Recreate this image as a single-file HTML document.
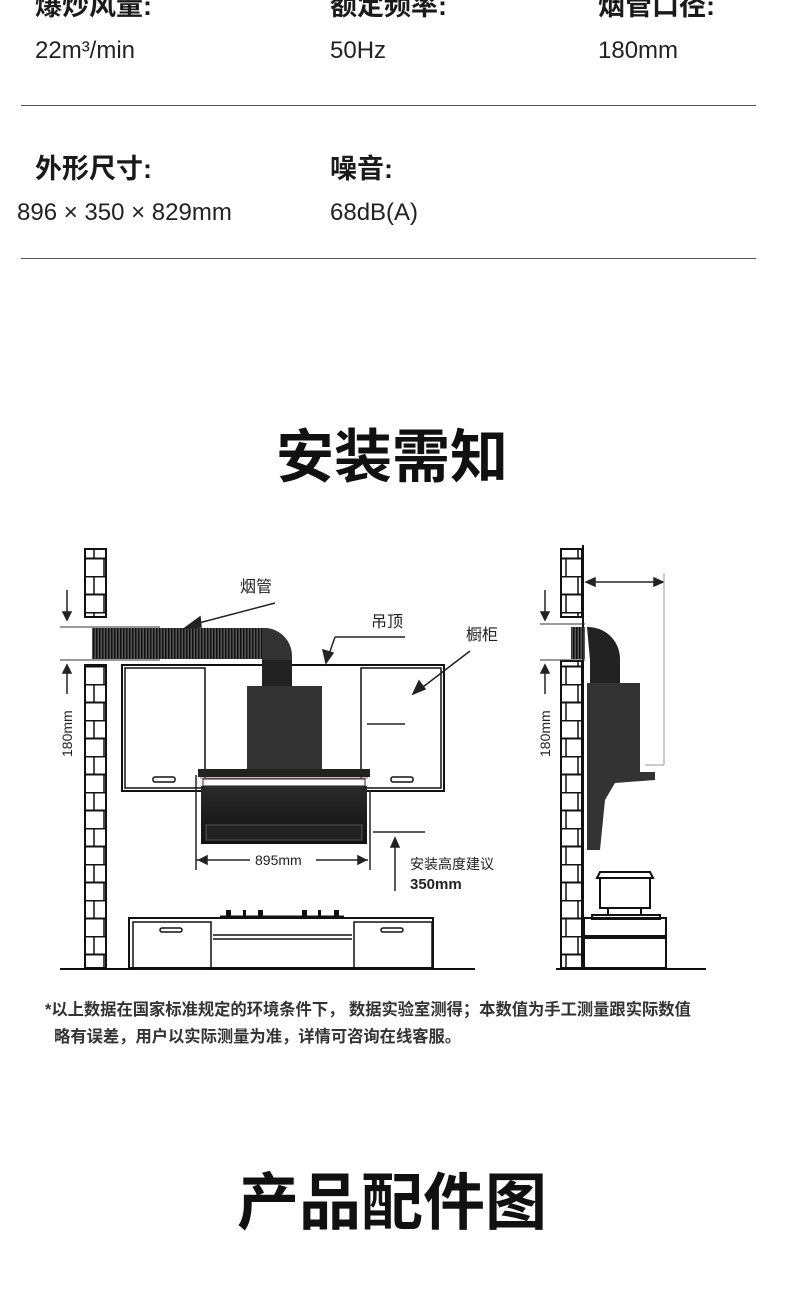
<!DOCTYPE html>
<html><head><meta charset="utf-8"><style>
body{margin:0;width:790px;height:1293px;background:#fff;overflow:hidden;position:relative;font-family:"Liberation Sans","Noto Sans CJK SC",sans-serif;color:#222}
.t{position:absolute;white-space:nowrap}
.h{font-weight:bold;font-size:27px;color:#1a1a1a}
.v{font-size:24px;color:#222}
.hr{position:absolute;left:21px;width:735px;height:1px;background:#555}
</style></head><body>
<div class="t h" style="left:35px;top:-16px">爆炒风量:</div>
<div class="t h" style="left:330px;top:-16px">额定频率:</div>
<div class="t h" style="left:598px;top:-16px">烟管口径:</div>
<div class="t v" style="left:35px;top:37px">22m³/min</div>
<div class="t v" style="left:330px;top:37px">50Hz</div>
<div class="t v" style="left:598px;top:37px">180mm</div>
<div class="hr" style="top:105px"></div>
<div class="t h" style="left:35px;top:147px">外形尺寸:</div>
<div class="t h" style="left:330px;top:147px">噪音:</div>
<div class="t v" style="left:17px;top:199px">896 × 350 × 829mm</div>
<div class="t v" style="left:330px;top:199px">68dB(A)</div>
<div class="hr" style="top:258px"></div>
<div class="t" style="left:0;width:784px;text-align:center;top:410px;font-size:58px;font-weight:bold;color:#111">安装需知</div>
<svg style="position:absolute;left:0;top:0" width="790" height="1293">
<defs>
<pattern id="br" width="22" height="36" patternUnits="userSpaceOnUse">
<rect width="22" height="36" fill="#fff"/>
<line x1="0" y1="0.5" x2="22" y2="0.5" stroke="#111" stroke-width="2"/>
<line x1="0" y1="18.5" x2="22" y2="18.5" stroke="#111" stroke-width="2"/>
<line x1="6" y1="0" x2="6" y2="18" stroke="#111" stroke-width="1.5"/>
<line x1="16" y1="18" x2="16" y2="36" stroke="#111" stroke-width="1.5"/>
</pattern>
<pattern id="duct" width="3" height="10" patternUnits="userSpaceOnUse">
<rect width="3" height="10" fill="#555"/><rect width="1.5" height="10" fill="#111"/>
</pattern>
<linearGradient id="hood" x1="0" y1="0" x2="0" y2="1"><stop offset="0" stop-color="#2a2a2a"/><stop offset="1" stop-color="#111"/></linearGradient>
</defs>
<g stroke="#111" stroke-width="2" fill="none">
<rect x="85" y="549" width="21" height="68" fill="url(#br)"/>
<rect x="85" y="665" width="21" height="303" fill="url(#br)"/>
<rect x="85" y="549" width="21" height="68"/><rect x="85" y="665" width="21" height="303"/>
<line x1="60" y1="969" x2="475" y2="969"/>
<line x1="556" y1="969" x2="706" y2="969"/>
<rect x="122" y="665" width="322" height="126"/>
<rect x="125" y="668" width="80" height="120" stroke-width="1.5"/>
<rect x="361" y="668" width="80" height="120" stroke-width="1.5"/>
<rect x="153" y="777" width="22" height="5" rx="2" stroke-width="1.5"/>
<rect x="391" y="777" width="22" height="5" rx="2" stroke-width="1.5"/>
<rect x="129" y="918" width="304" height="50"/>
<rect x="133" y="922" width="78" height="46" stroke-width="1.5"/>
<rect x="354" y="922" width="78" height="46" stroke-width="1.5"/>
<line x1="213" y1="935" x2="352" y2="935" stroke-width="1.5"/>
<line x1="213" y1="939" x2="352" y2="939" stroke-width="1.5"/>
<rect x="160" y="928" width="22" height="4" rx="2" stroke-width="1.5"/>
<rect x="381" y="928" width="22" height="4" rx="2" stroke-width="1.5"/>
<line x1="220" y1="917" x2="344" y2="917" stroke-width="3"/>
</g>
<g fill="#111"><rect x="226" y="910" width="5" height="7"/><rect x="243" y="910" width="3" height="7"/><rect x="258" y="910" width="5" height="7"/><rect x="302" y="910" width="5" height="7"/><rect x="318" y="910" width="3" height="7"/><rect x="334" y="910" width="5" height="7"/></g>
<rect x="92" y="628" width="175" height="31" fill="url(#duct)"/>
<path d="M262 628 A28 28 0 0 1 292 656 L292 686 L262 686 L262 659 Z" fill="#333"/>
<rect x="262" y="660" width="30" height="26" fill="#222"/>
<line x1="60" y1="627" x2="160" y2="627" stroke="#333"/>
<line x1="60" y1="660" x2="160" y2="660" stroke="#333"/>
<rect x="247" y="686" width="75" height="85" fill="#333"/>
<rect x="198" y="769" width="172" height="8" fill="#222"/>
<line x1="200" y1="778" x2="368" y2="778" stroke="#a66" stroke-width="1"/>
<rect x="203" y="779" width="162" height="7" fill="#fff" stroke="#222"/>
<rect x="201" y="786" width="166" height="58" fill="url(#hood)"/>
<rect x="206" y="825" width="156" height="15" fill="#222" stroke="#555"/>
<g stroke="#222" stroke-width="1.5" fill="#222">
<line x1="275" y1="603" x2="195" y2="624"/><polygon points="185,628 200,617 201,627"/>
<line x1="405" y1="637" x2="335" y2="637" fill="none"/><line x1="335" y1="637" x2="327" y2="660"/><polygon points="326,663 323,650 333,653"/>
<line x1="470" y1="651" x2="419" y2="690"/><polygon points="413,694 419,681 425,689"/>
<line x1="367" y1="724" x2="405" y2="724"/>
<line x1="196" y1="860" x2="250" y2="860"/><line x1="316" y1="860" x2="368" y2="860"/>
<polygon points="199,860 207,856 207,864"/><polygon points="366,860 358,856 358,864"/>
<line x1="196" y1="775" x2="196" y2="870"/><line x1="370" y1="790" x2="370" y2="870"/>
<line x1="373" y1="832" x2="425" y2="832"/>
<line x1="395" y1="845" x2="395" y2="891"/><polygon points="395,838 391,847 399,847"/>
<line x1="67" y1="590" x2="67" y2="612"/><polygon points="67,620 63,612 71,612"/>
<line x1="67" y1="672" x2="67" y2="694"/><polygon points="67,665 63,673 71,673"/>
<line x1="545" y1="590" x2="545" y2="612"/><polygon points="545,620 541,612 549,612"/>
<line x1="545" y1="672" x2="545" y2="694"/><polygon points="545,665 541,673 549,673"/>
<line x1="590" y1="582" x2="660" y2="582"/><polygon points="586,582 595,578 595,586"/><polygon points="663,582 654,578 654,586"/>
</g>
<line x1="664" y1="573" x2="664" y2="765" stroke="#999"/>
<line x1="645" y1="765" x2="664" y2="765" stroke="#999"/>
<rect x="561" y="549" width="21" height="68" fill="url(#br)" stroke="#111" stroke-width="2"/>
<rect x="561" y="661" width="21" height="307" fill="url(#br)" stroke="#111" stroke-width="2"/>
<line x1="583" y1="545" x2="583" y2="968" stroke="#111" stroke-width="2"/>
<line x1="540" y1="624" x2="585" y2="624" stroke="#333"/>
<line x1="540" y1="660" x2="585" y2="660" stroke="#333"/>
<rect x="571" y="627" width="14" height="32" fill="url(#duct)"/>
<path d="M587 627 A32 32 0 0 1 620 659 L620 683 L590 683 L590 660 Z" fill="#222"/>
<rect x="587" y="683" width="53" height="90" fill="#333"/>
<path d="M587 772 L655 772 L655 780 L615 783 L605 800 L600 850 L587 850 Z" fill="#333"/>
<g stroke="#111" stroke-width="2" fill="none">
<rect x="600" y="878" width="50" height="30"/>
<path d="M597 878 L653 878 L650 872 L600 872 Z"/>
<rect x="592" y="915" width="68" height="4"/>
<line x1="608" y1="908" x2="608" y2="915"/><line x1="641" y1="908" x2="641" y2="915"/>
<rect x="584" y="918" width="82" height="18"/>
<rect x="584" y="938" width="82" height="30"/>
</g>
<g font-family="Liberation Sans,Noto Sans CJK SC,sans-serif" fill="#222">
<text x="240" y="592" font-size="16">烟管</text>
<text x="371" y="627" font-size="16">吊顶</text>
<text x="466" y="640" font-size="16">橱柜</text>
<text x="255" y="865" font-size="14">895mm</text>
<text x="410" y="869" font-size="14">安装高度建议</text>
<text x="410" y="889" font-size="15" font-weight="bold">350mm</text>
<text transform="translate(72,757) rotate(-90)" font-size="14">180mm</text>
<text transform="translate(550,757) rotate(-90)" font-size="14">180mm</text>
</g>
</svg>
<div class="t" style="left:45px;top:997px;font-size:16.3px;font-weight:bold;color:#333;line-height:27px">*以上数据在国家标准规定的环境条件下， 数据实验室测得；本数值为手工测量跟实际数值<br>&nbsp;&nbsp;略有误差，用户以实际测量为准，详情可咨询在线客服。</div>
<div class="t" style="left:0;width:784px;text-align:center;top:1152px;font-size:62px;font-weight:bold;color:#111">产品配件图</div>
</body></html>
